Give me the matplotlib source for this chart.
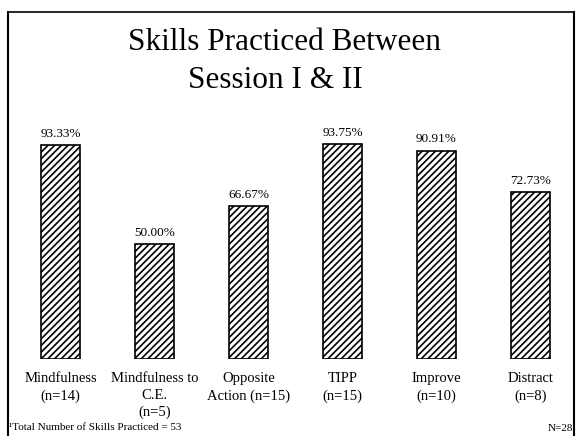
import matplotlib
matplotlib.use("Agg")
import matplotlib.pyplot as plt
from matplotlib.lines import Line2D

categories = ["Mindfulness\n(n=14)", "Mindfulness to\nC.E.\n(n=5)", "Opposite\nAction (n=15)",
              "TIPP\n(n=15)", "Improve\n(n=10)", "Distract\n(n=8)"]
values = [93.33, 50.00, 66.67, 93.75, 90.91, 72.73]
value_labels = ["93.33%", "50.00%", "66.67%", "93.75%", "90.91%", "72.73%"]
title_lines = ["Skills Practiced Between", "Session I & II"]
footnote = "¹Total Number of Skills Practiced = 53"
n_total = "N=28"

W, H = 576, 436
plt.rcParams['font.family'] = ['Liberation Serif', 'DejaVu Serif']
plt.rcParams['hatch.linewidth'] = 1.2

fig = plt.figure(figsize=(W / 100, H / 100), dpi=100)
fig.patch.set_facecolor("white")

unit = 94.0
xlo, xhi = -0.4, 5.4
left_px = 60.5 + xlo * unit
width_px = (xhi - xlo) * unit
bottom_px = 359
height_px = 229
ax = fig.add_axes([left_px / W, (H - bottom_px) / H, width_px / W, height_px / H])
ax.set_xlim(xlo, xhi)
ax.set_ylim(0, 100)
ax.axis("off")

x = list(range(len(values)))
ax.bar(x, values, width=0.42, facecolor="white", edgecolor="black",
       hatch="/////", linewidth=1.2)
for xi, v, lab in zip(x, values, value_labels):
    ax.annotate(lab, (xi, v), xytext=(0, 4), textcoords="offset points",
                ha="center", va="bottom", fontsize=9.5)

for xi, cat in zip(x, categories):
    ax.annotate(cat, (xi, 0), xytext=(0, -9.5), textcoords="offset points",
                ha="center", va="top", fontsize=10.5, linespacing=1.38)

# title
fig.text(285 / W, 1 - 42 / H, title_lines[0], ha="center", va="center", fontsize=22.5)
fig.text(275 / W, 1 - 80 / H, title_lines[1], ha="center", va="center", fontsize=22.5)

# footnote and N
fig.text(9 / W, 1 - 427 / H, footnote, ha="left", va="center", fontsize=8)
fig.text(573 / W, 1 - 428 / H, n_total, ha="right", va="center", fontsize=8)

# frame
lx, rx, ty = 8 / W, 574 / W, 1 - 12 / H
fig.add_artist(Line2D([lx, lx], [0, ty], color="black", lw=1.5, transform=fig.transFigure))
fig.add_artist(Line2D([lx, rx], [ty, ty], color="black", lw=1.2, transform=fig.transFigure))
fig.add_artist(Line2D([rx, rx], [0, ty], color="black", lw=1.5, transform=fig.transFigure))

fig.savefig("out.png", dpi=100)
